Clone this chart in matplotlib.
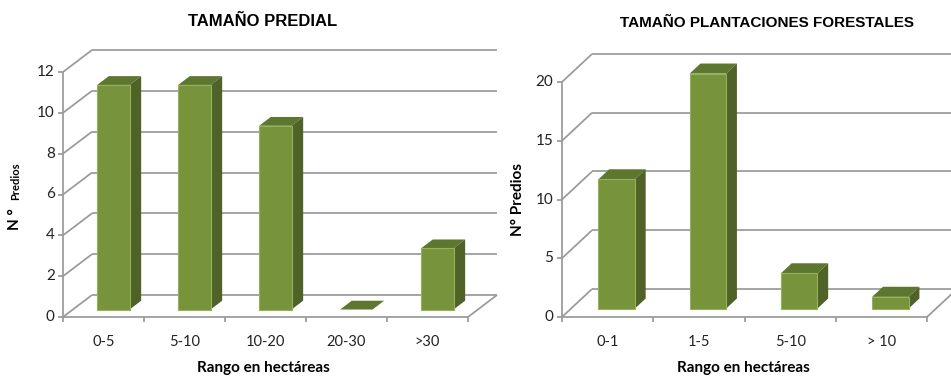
import numpy as np
import matplotlib
matplotlib.use('Agg')
import matplotlib.pyplot as plt

# datos
cat_predial = ['0-5', '5-10', '10-20', '20-30', '>30']
val_predial = [11, 11, 9, 0, 3]
ticks_predial = [0, 2, 4, 6, 8, 10, 12]

cat_plant = ['0-1', '1-5', '5-10', '> 10']
val_plant = [11, 20, 3, 1]
ticks_plant = [0, 5, 10, 15, 20]

c_front = '#77933C'
c_side = '#4F6228'
c_top = '#5E772F'
c_edge = '#95B25A'
c_grid = '#999999'

W, H = 951, 377
fig = plt.figure(figsize=(W / 100, H / 100), dpi=100)


def px_box(x0, x1, y_top, y_bot):
    return [x0 / W, 1 - y_bot / H, (x1 - x0) / W, (y_bot - y_top) / H]


def chart(box, cats, vals, yticks, depth_px, f0, f1, grid_right):
    ax = fig.add_axes(box)
    n = len(cats)
    ax.set_xlim(0, n)
    ax.set_ylim(0, yticks[-1])
    ax.axis('off')

    # desplazamiento de profundidad en unidades de datos
    o = ax.transData.transform((0, 0))
    ddx, ddy = ax.transData.inverted().transform(o + np.array(depth_px))

    def pt(x, y, d):
        return (x + d * ddx, y + d * ddy)

    kw = dict(color=c_grid, lw=1.25, clip_on=False, solid_capstyle='butt')
    # pared del fondo y pared lateral
    for v in yticks:
        a, b = pt(0, v, 1), (grid_right, pt(0, v, 1)[1])
        ax.plot([a[0], b[0]], [a[1], b[1]], **kw)
        a, b = pt(0, v, 0), pt(0, v, 1)
        ax.plot([a[0], b[0]], [a[1], b[1]], **kw)
    # piso
    a, b = pt(n, 0, 0), pt(n, 0, 1)
    ax.plot([a[0], b[0]], [a[1], b[1]], **kw)
    ax.plot([0, n], [0, 0], **kw)
    ax.plot([0, 0], [0, yticks[-1]], **kw)

    # marcas de los ejes
    tx = 5 * ddx / depth_px[0]
    ty = 5 * ddy / depth_px[1]
    for v in yticks:
        ax.plot([-tx, 0], [v, v], **kw)
        ax.text(-tx - 0.04, v, str(v), ha='right', va='center',
                fontsize=11, family='Lato', color='#222222')
    for i in range(n + 1):
        ax.plot([i, i], [0, -ty], **kw)
    for i, c in enumerate(cats):
        ax.text(i + 0.5, -ty * 5.0, c, ha='center', va='center',
                fontsize=10.5, family='Lato', color='#222222')

    # barras 3D
    for i, v in enumerate(vals):
        l, r = i + 0.3, i + 0.7
        top = [pt(l, v, f0), pt(r, v, f0), pt(r, v, f1), pt(l, v, f1)]
        ax.fill(*zip(*top), color=c_top, lw=0, clip_on=False, zorder=3)
        if v > 0:
            side = [pt(r, 0, f0), pt(r, 0, f1), pt(r, v, f1), pt(r, v, f0)]
            ax.fill(*zip(*side), color=c_side, lw=0, clip_on=False, zorder=3)
            front = [pt(l, 0, f0), pt(r, 0, f0), pt(r, v, f0), pt(l, v, f0)]
            ax.fill(*zip(*front), facecolor=c_front, edgecolor=c_edge,
                    lw=0.8, clip_on=False, zorder=4)
    return ax


chart(px_box(63, 468, 72, 317), cat_predial, val_predial, ticks_predial,
      (29, 22), 0.34, 0.74, 5 + 29 / 81)
chart(px_box(562, 927, 82, 317), cat_plant, val_plant, ticks_plant,
      (30, 28), 0.30, 0.66, 4 + 40 / 91)

# titulos
fig.text(263 / W, 1 - 21 / H, 'TAMAÑO PREDIAL', ha='center', va='center',
         fontsize=12, fontweight='bold', family='Liberation Sans')
fig.text(767 / W, 1 - 23 / H, 'TAMAÑO PLANTACIONES FORESTALES', ha='center',
         va='center', fontsize=11, fontweight='bold', family='Liberation Sans')

# etiquetas de ejes
fig.text(263 / W, 1 - 368 / H, 'Rango en hectáreas', ha='center', va='center',
         fontsize=11, fontweight='bold', family='Lato')
fig.text(743 / W, 1 - 368 / H, 'Rango en hectáreas', ha='center', va='center',
         fontsize=11, fontweight='bold', family='Lato')

fig.text(19 / W, 1 - 219 / H, 'N °', rotation=90, rotation_mode='anchor',
         ha='center', va='baseline', fontsize=11, fontweight='bold', family='Lato')
fig.text(19 / W, 1 - 181 / H, 'Predios', rotation=90, rotation_mode='anchor',
         ha='center', va='baseline', fontsize=8, fontweight='bold', family='Lato')
fig.text(518 / W, 1 - 199 / H, 'N° Predios', rotation=90, ha='center',
         va='center', fontsize=11, fontweight='bold', family='Lato')

fig.savefig('out.png', dpi=100)
